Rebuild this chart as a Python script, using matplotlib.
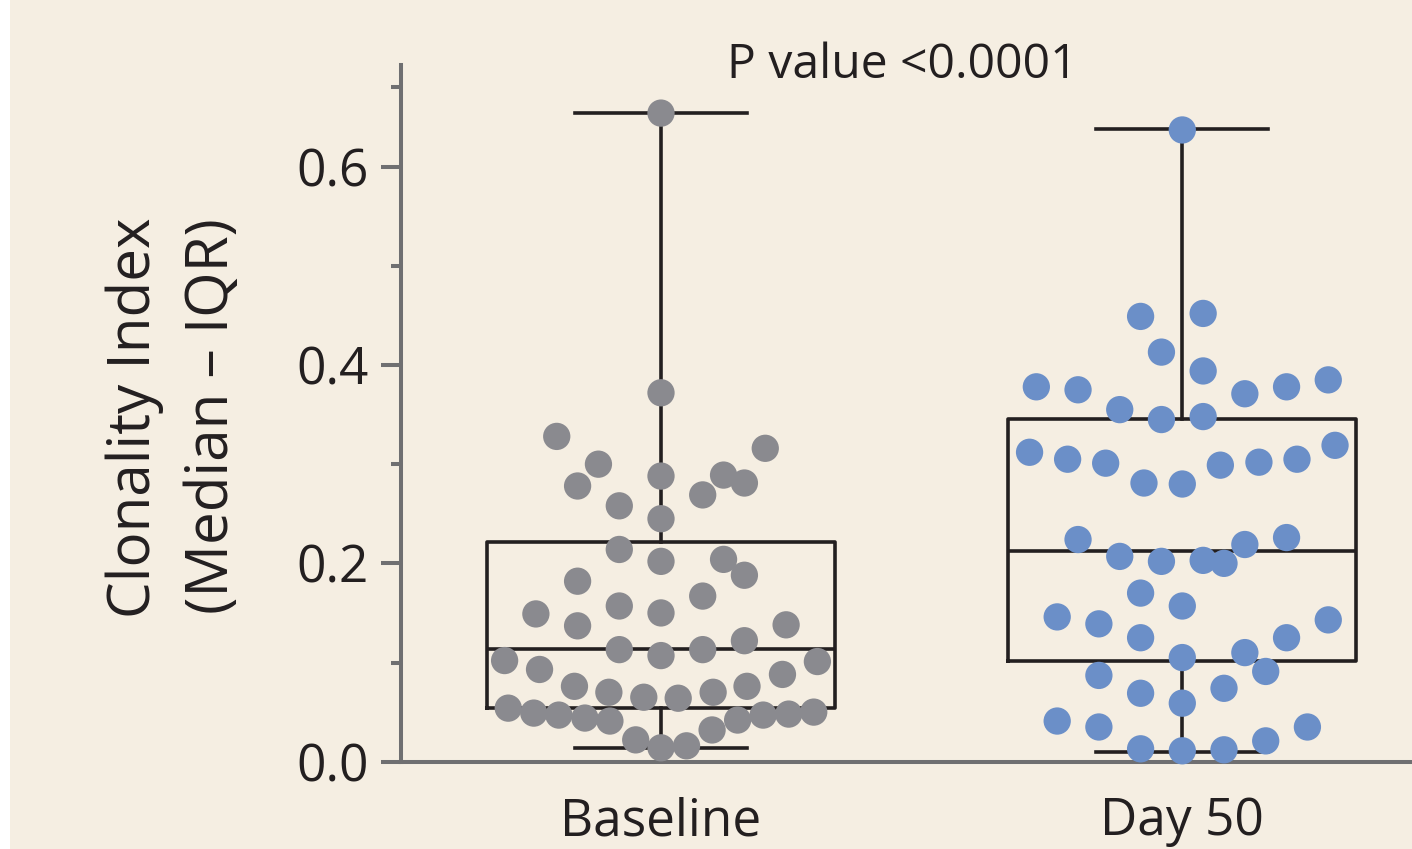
import matplotlib
matplotlib.use("Agg")
import matplotlib.pyplot as plt
from matplotlib.patches import Rectangle

plt.rcParams['font.family'] = ['Open Sans', 'DejaVu Sans']

# ---------------- data ----------------
categories = ["Baseline", "Day 50"]

baseline_values = [0.654, 0.372, 0.328, 0.316, 0.300, 0.288, 0.289, 0.278, 0.281, 0.269,
                   0.258, 0.245, 0.214, 0.202, 0.204, 0.188, 0.182, 0.167, 0.157, 0.150,
                   0.149, 0.137, 0.138, 0.122, 0.113, 0.113, 0.107, 0.102, 0.101, 0.093,
                   0.088, 0.076, 0.076, 0.070, 0.070, 0.065, 0.064, 0.054, 0.049, 0.047,
                   0.044, 0.041, 0.050, 0.048, 0.047, 0.042, 0.032, 0.022, 0.014, 0.016]
baseline_jitter = [0.0, 0.0, -0.20, 0.20, -0.12, 0.0, 0.12, -0.16, 0.16, 0.08,
                   -0.08, 0.0, -0.08, 0.0, 0.12, 0.16, -0.16, 0.08, -0.08, 0.0,
                   -0.24, -0.16, 0.24, 0.16, -0.08, 0.08, 0.0, -0.30, 0.30, -0.233,
                   0.233, -0.166, 0.165, -0.10, 0.10, -0.033, 0.033, -0.293, -0.244, -0.196,
                   -0.146, -0.098, 0.293, 0.245, 0.196, 0.147, 0.098, -0.0485, 0.0, 0.049]

day50_values = [0.637, 0.449, 0.452, 0.413, 0.394, 0.378, 0.375, 0.385, 0.378, 0.371,
                0.355, 0.345, 0.348, 0.312, 0.305, 0.301, 0.319, 0.305, 0.302, 0.299,
                0.281, 0.280, 0.224, 0.226, 0.219, 0.207, 0.202, 0.203, 0.200, 0.170,
                0.157, 0.146, 0.139, 0.143, 0.125, 0.125, 0.105, 0.110, 0.091, 0.087,
                0.074, 0.069, 0.059, 0.041, 0.035, 0.035, 0.021, 0.013, 0.011, 0.012]
day50_jitter = [0.0, -0.08, 0.04, -0.04, 0.04, -0.28, -0.20, 0.28, 0.20, 0.12,
                -0.12, -0.04, 0.04, -0.293, -0.22, -0.147, 0.293, 0.22, 0.147, 0.073,
                -0.0735, 0.0, -0.20, 0.20, 0.12, -0.12, -0.04, 0.04, 0.08, -0.08,
                0.0, -0.24, -0.16, 0.28, 0.20, -0.08, 0.0, 0.12, 0.16, -0.16,
                0.08, -0.08, 0.0, -0.24, -0.16, 0.24, 0.16, -0.08, 0.0, 0.08]

# box statistics (q1, median, q3, whisker low, whisker high)
box_q1 = [0.0538, 0.1018]
box_med = [0.1133, 0.2128]
box_q3 = [0.2215, 0.3453]
box_lo = [0.0141, 0.0101]
box_hi = [0.6536, 0.6375]

y_major = [0.0, 0.2, 0.4, 0.6]
y_minor = [0.1, 0.3, 0.5, 0.68]
y_labels = ["0.0", "0.2", "0.4", "0.6"]

ylabel_line1 = "Clonality Index"
ylabel_line2 = "(Median \u2013 IQR)"
annotation = "P value <0.0001"

# ---------------- style ----------------
BG = "#f5eee2"
AXIS = "#6f6f71"
INK = "#231f20"
point_colors = ["#8a8a8f", "#6b8fc8"]

W, H = 1412, 849
fig = plt.figure(figsize=(W / 100, H / 100), dpi=100, facecolor=BG)
fig.patches.append(Rectangle((0, 0), 10 / W, 1, transform=fig.transFigure,
                             facecolor="white", edgecolor="none", zorder=-10))

ax_left, ax_bottom = 401 / W, (H - 761.7) / H
ax = fig.add_axes([ax_left, ax_bottom, 1 - ax_left, (761.7 - 65.0) / H])
ax.set_facecolor("none")
ax.set_xlim(-0.49875, 1.44063)
ax.set_ylim(0, 0.7025)

stats = []
for i, name in enumerate(categories):
    stats.append(dict(label=name, q1=box_q1[i], med=box_med[i], q3=box_q3[i],
                      whislo=box_lo[i], whishi=box_hi[i], fliers=[]))
ax.bxp(stats, positions=[0, 1], widths=0.668, capwidths=0.33, showfliers=False,
       boxprops=dict(color=INK, linewidth=2.6),
       medianprops=dict(color=INK, linewidth=2.6),
       whiskerprops=dict(color=INK, linewidth=2.6),
       capprops=dict(color=INK, linewidth=2.6), manage_ticks=False)

for i, (vals, jit) in enumerate([(baseline_values, baseline_jitter),
                                  (day50_values, day50_jitter)]):
    xs = [i + j for j in jit]
    ax.scatter(xs, vals, s=386, color=point_colors[i], edgecolors="none",
               zorder=5, clip_on=False)

for s in ["top", "right"]:
    ax.spines[s].set_visible(False)
for s in ["left", "bottom"]:
    ax.spines[s].set_color(AXIS)
    ax.spines[s].set_linewidth(2.9)

ax.set_yticks(y_major, y_labels)
ax.set_yticks(y_minor, minor=True)
ax.tick_params(axis="y", which="major", length=14.4, width=2.9, color=AXIS,
               labelsize=37, labelcolor=INK, pad=9)
ax.tick_params(axis="y", which="minor", length=7.2, width=2.9, color=AXIS)
ax.set_xticks([0, 1], categories)
ax.tick_params(axis="x", length=0, labelsize=37, labelcolor=INK, pad=25)

fig.text(150 / W, (H - 418) / H, ylabel_line1, rotation=90, rotation_mode="anchor",
         ha="center", va="baseline", fontsize=42, color=INK)
fig.text(228 / W, (H - 416) / H, ylabel_line2, rotation=90, rotation_mode="anchor",
         ha="center", va="baseline", fontsize=42, color=INK)

fig.text(902 / W, (H - 78.3) / H, annotation, ha="center", va="baseline",
         fontsize=34.6, color=INK)

fig.savefig("out.png", dpi=100, facecolor=BG)
